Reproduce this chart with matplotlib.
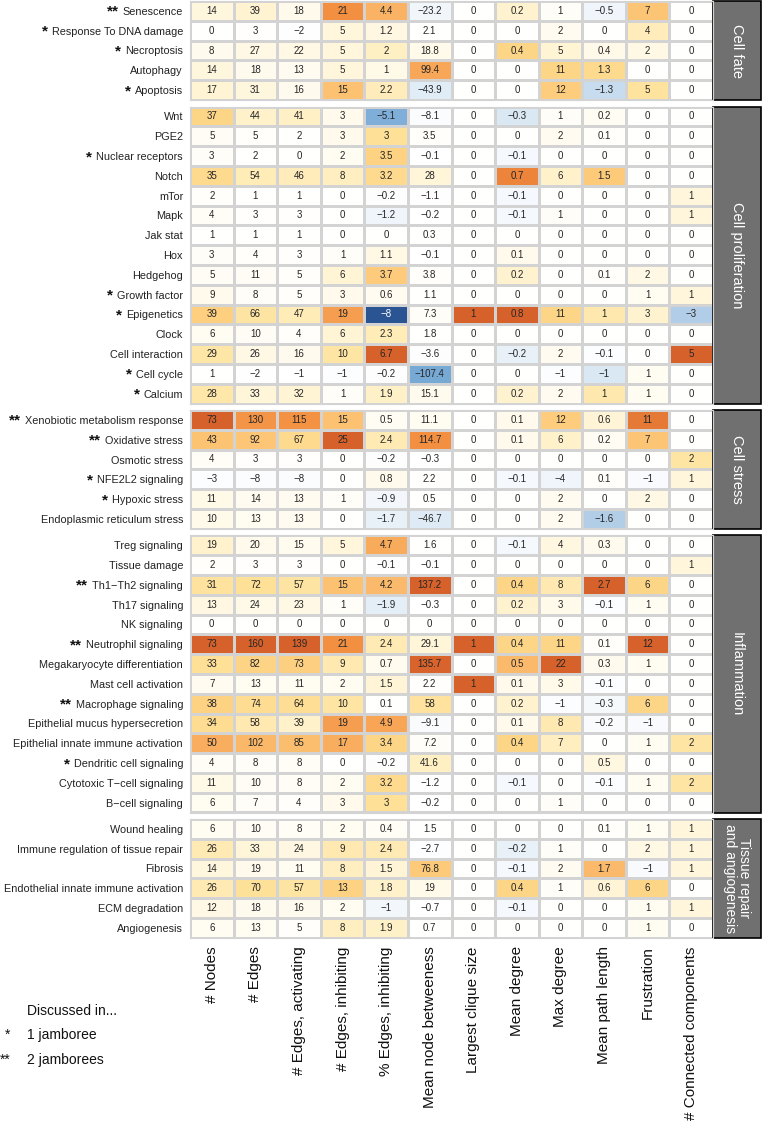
import numpy as np
import matplotlib.pyplot as plt
from matplotlib.colors import LinearSegmentedColormap
from matplotlib.patches import Rectangle

plt.rcParams['font.family'] = ['Liberation Sans', 'DejaVu Sans']

# column headers
columns = ['# Nodes', '# Edges', '# Edges, activating', '# Edges, inhibiting',
           '% Edges, inhibiting', 'Mean node betweeness', 'Largest clique size',
           'Mean degree', 'Max degree', 'Mean path length', 'Frustration',
           '# Connected components']

# groups (name shown in the grey box on the right)
group_names = ['Cell fate', 'Cell proliferation', 'Cell stress', 'Inflammation',
               'Tissue repair\nand angiogenesis']

fate_labels = ['Senescence', 'Response To DNA damage', 'Necroptosis', 'Autophagy', 'Apoptosis']
fate_stars = [2, 1, 1, 0, 1]
fate_values = [
    [14, 39, 18, 21, 4.4, -23.2, 0, 0.2, 1, -0.5, 7, 0],
    [0, 3, -2, 5, 1.2, 2.1, 0, 0, 2, 0, 4, 0],
    [8, 27, 22, 5, 2, 18.8, 0, 0.4, 5, 0.4, 2, 0],
    [14, 18, 13, 5, 1, 99.4, 0, 0, 11, 1.3, 0, 0],
    [17, 31, 16, 15, 2.2, -43.9, 0, 0, 12, -1.3, 5, 0],
]

prolif_labels = ['Wnt', 'PGE2', 'Nuclear receptors', 'Notch', 'mTor', 'Mapk', 'Jak stat',
                 'Hox', 'Hedgehog', 'Growth factor', 'Epigenetics', 'Clock',
                 'Cell interaction', 'Cell cycle', 'Calcium']
prolif_stars = [0, 0, 1, 0, 0, 0, 0, 0, 0, 1, 1, 0, 0, 1, 1]
prolif_values = [
    [37, 44, 41, 3, -5.1, -8.1, 0, -0.3, 1, 0.2, 0, 0],
    [5, 5, 2, 3, 3, 3.5, 0, 0, 2, 0.1, 0, 0],
    [3, 2, 0, 2, 3.5, -0.1, 0, -0.1, 0, 0, 0, 0],
    [35, 54, 46, 8, 3.2, 28, 0, 0.7, 6, 1.5, 0, 0],
    [2, 1, 1, 0, -0.2, -1.1, 0, -0.1, 0, 0, 0, 1],
    [4, 3, 3, 0, -1.2, -0.2, 0, -0.1, 1, 0, 0, 1],
    [1, 1, 1, 0, 0, 0.3, 0, 0, 0, 0, 0, 0],
    [3, 4, 3, 1, 1.1, -0.1, 0, 0.1, 0, 0, 0, 0],
    [5, 11, 5, 6, 3.7, 3.8, 0, 0.2, 0, 0.1, 2, 0],
    [9, 8, 5, 3, 0.6, 1.1, 0, 0, 0, 0, 1, 1],
    [39, 66, 47, 19, -8, 7.3, 1, 0.8, 11, 1, 3, -3],
    [6, 10, 4, 6, 2.3, 1.8, 0, 0, 0, 0, 0, 0],
    [29, 26, 16, 10, 6.7, -3.6, 0, -0.2, 2, -0.1, 0, 5],
    [1, -2, -1, -1, -0.2, -107.4, 0, 0, -1, -1, 1, 0],
    [28, 33, 32, 1, 1.9, 15.1, 0, 0.2, 2, 1, 1, 0],
]

stress_labels = ['Xenobiotic metabolism response', 'Oxidative stress', 'Osmotic stress',
                 'NFE2L2 signaling', 'Hypoxic stress', 'Endoplasmic reticulum stress']
stress_stars = [2, 2, 0, 1, 1, 0]
stress_values = [
    [73, 130, 115, 15, 0.5, 11.1, 0, 0.1, 12, 0.6, 11, 0],
    [43, 92, 67, 25, 2.4, 114.7, 0, 0.1, 6, 0.2, 7, 0],
    [4, 3, 3, 0, -0.2, -0.3, 0, 0, 0, 0, 0, 2],
    [-3, -8, -8, 0, 0.8, 2.2, 0, -0.1, -4, 0.1, -1, 1],
    [11, 14, 13, 1, -0.9, 0.5, 0, 0, 2, 0, 2, 0],
    [10, 13, 13, 0, -1.7, -46.7, 0, 0, 2, -1.6, 0, 0],
]

inflam_labels = ['Treg signaling', 'Tissue damage', 'Th1\u2212Th2 signaling', 'Th17 signaling',
                 'NK signaling', 'Neutrophil signaling', 'Megakaryocyte differentiation',
                 'Mast cell activation', 'Macrophage signaling',
                 'Epithelial mucus hypersecretion', 'Epithelial innate immune activation',
                 'Dendritic cell signaling', 'Cytotoxic T\u2212cell signaling', 'B\u2212cell signaling']
inflam_stars = [0, 0, 2, 0, 0, 2, 0, 0, 2, 0, 0, 1, 0, 0]
inflam_values = [
    [19, 20, 15, 5, 4.7, 1.6, 0, -0.1, 4, 0.3, 0, 0],
    [2, 3, 3, 0, -0.1, -0.1, 0, 0, 0, 0, 0, 1],
    [31, 72, 57, 15, 4.2, 137.2, 0, 0.4, 8, 2.7, 6, 0],
    [13, 24, 23, 1, -1.9, -0.3, 0, 0.2, 3, -0.1, 1, 0],
    [0, 0, 0, 0, 0, 0, 0, 0, 0, 0, 0, 0],
    [73, 160, 139, 21, 2.4, 29.1, 1, 0.4, 11, 0.1, 12, 0],
    [33, 82, 73, 9, 0.7, 135.7, 0, 0.5, 22, 0.3, 1, 0],
    [7, 13, 11, 2, 1.5, 2.2, 1, 0.1, 3, -0.1, 0, 0],
    [38, 74, 64, 10, 0.1, 58, 0, 0.2, -1, -0.3, 6, 0],
    [34, 58, 39, 19, 4.9, -9.1, 0, 0.1, 8, -0.2, -1, 0],
    [50, 102, 85, 17, 3.4, 7.2, 0, 0.4, 7, 0, 1, 2],
    [4, 8, 8, 0, -0.2, 41.6, 0, 0, 0, 0.5, 0, 0],
    [11, 10, 8, 2, 3.2, -1.2, 0, -0.1, 0, -0.1, 1, 2],
    [6, 7, 4, 3, 3, -0.2, 0, 0, 1, 0, 0, 0],
]

repair_labels = ['Wound healing', 'Immune regulation of tissue repair', 'Fibrosis',
                 'Endothelial innate immune activation', 'ECM degradation', 'Angiogenesis']
repair_stars = [0, 0, 0, 0, 0, 0]
repair_values = [
    [6, 10, 8, 2, 0.4, 1.5, 0, 0, 0, 0.1, 1, 1],
    [26, 33, 24, 9, 2.4, -2.7, 0, -0.2, 1, 0, 2, 1],
    [14, 19, 11, 8, 1.5, 76.8, 0, -0.1, 2, 1.7, -1, 1],
    [26, 70, 57, 13, 1.8, 19, 0, 0.4, 1, 0.6, 6, 0],
    [12, 18, 16, 2, -1, -0.7, 0, -0.1, 0, 0, 1, 1],
    [6, 13, 5, 8, 1.9, 0.7, 0, 0, 0, 0, 1, 0],
]

groups = [
    (fate_labels, fate_stars, fate_values),
    (prolif_labels, prolif_stars, prolif_values),
    (stress_labels, stress_stars, stress_values),
    (inflam_labels, inflam_stars, inflam_values),
    (repair_labels, repair_stars, repair_values),
]

# colour scale: each column scaled by its largest positive value
all_vals = np.vstack([np.array(g[2], dtype=float) for g in groups])
col_max = all_vals.max(axis=0)

neg = [(1.0, '#2b5592'), (0.78, '#7aacd8'), (0.6, '#b1cde7'), (0.4, '#d7e6f3'), (0.2, '#eef4fa')]
pos = [(0.0, '#ffffff'), (0.15, '#fff9e8'), (0.3, '#fff0c4'), (0.45, '#fee096'),
       (0.55, '#fdcc7c'), (0.7, '#f9ab5c'), (0.85, '#f38e40'), (1.0, '#d6612b')]
stops = [(0.5 - 0.5 * f, c) for f, c in neg] + [(0.5 + 0.5 * f, c) for f, c in pos]
cmap = LinearSegmentedColormap.from_list('cells', stops)

W, H = 764, 1133
fig = plt.figure(figsize=(W / 100, H / 100), dpi=100)

left_px, right_px = 190, 713
top_px = 1
row_h = 19.8
gap = 6.5
box_w = 48
grid_col = '#d3d3d3'


def fmt(v):
    s = f'{v:g}'
    return s.replace('-', '\u2212')


axes = []
y = top_px
for gi, (labels, stars, values) in enumerate(groups):
    vals = np.array(values, dtype=float)
    n = len(labels)
    h = n * row_h
    ax = fig.add_axes([left_px / W, 1 - (y + h) / H, (right_px - left_px) / W, h / H])
    norm_vals = np.clip(vals / col_max, -1, 1)
    ax.pcolormesh(norm_vals, cmap=cmap, vmin=-1, vmax=1, edgecolors=grid_col, linewidth=0.8)
    ax.set_xlim(0, len(columns))
    ax.set_ylim(n, 0)
    for i in range(n):
        for j in range(len(columns)):
            c = 'white' if norm_vals[i, j] < -0.9 else '#262626'
            ax.text(j + 0.5, i + 0.5, fmt(vals[i, j]), ha='center', va='center',
                    fontsize=7, color=c)
    ax.set_yticks(np.arange(n) + 0.5)
    ax.set_yticklabels(labels, fontsize=7.8, color='#222222')
    ax.tick_params(length=0, pad=5)
    ax.set_xticks([])
    for sp in ax.spines.values():
        sp.set_color(grid_col)
        sp.set_linewidth(0.8)
    # grey group box
    bw = box_w / (right_px - left_px)
    ax.add_patch(Rectangle((1.0, 0), bw, 1, transform=ax.transAxes, clip_on=False,
                           facecolor='#707070', edgecolor='black', linewidth=1.2))
    fs = 10 if '\n' in group_names[gi] else 10.5
    ax.text(1.0 + bw / 2, 0.5, group_names[gi], transform=ax.transAxes, rotation=270,
            ha='center', va='center', color='white', fontsize=fs, linespacing=1.0)
    axes.append((ax, stars))
    y += h + gap

last = axes[-1][0]
last.set_xticks(np.arange(len(columns)) + 0.5)
last.set_xticklabels(columns, rotation=90, fontsize=11, color='#111111')
last.tick_params(axis='x', length=0, pad=6)

# stars in front of the row labels
fig.canvas.draw()
renderer = fig.canvas.get_renderer()
inv = fig.transFigure.inverted()
for ax, stars in axes:
    for lbl, s in zip(ax.get_yticklabels(), stars):
        if s == 0:
            continue
        bb = lbl.get_window_extent(renderer)
        fx, fy = inv.transform((bb.x0 - 4, (bb.y0 + bb.y1) / 2))
        fig.text(fx, fy, '*' * s, ha='right', va='center', fontsize=11,
                 fontweight='bold', color='#111111')

# legend
fig.text(27 / W, 1 - 1011 / H, 'Discussed in...', fontsize=10, va='center', color='#111111')
fig.text(5 / W, 1 - 1035 / H, '*', fontsize=10, va='center', color='#111111')
fig.text(27 / W, 1 - 1035 / H, '1 jamboree', fontsize=10, va='center', color='#111111')
fig.text(0 / W, 1 - 1060 / H, '**', fontsize=10, va='center', color='#111111')
fig.text(27 / W, 1 - 1060 / H, '2 jamborees', fontsize=10, va='center', color='#111111')

fig.savefig('out.png', dpi=100)
